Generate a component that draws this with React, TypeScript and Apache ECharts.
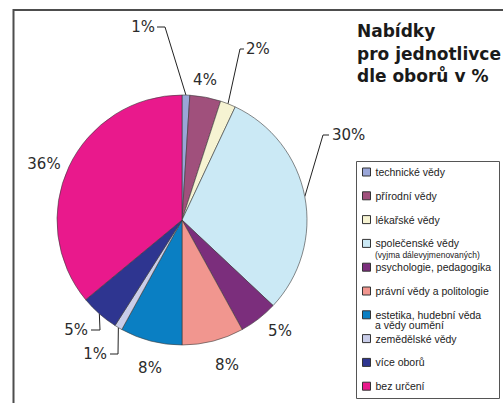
import React, { useEffect, useRef } from "react";
import * as echarts from "echarts";

const categories = [
  "technické vědy",
  "přírodní vědy",
  "lékařské vědy",
  "společenské vědy",
  "psychologie, pedagogika",
  "právní vědy a politologie",
  "estetika, hudební věda",
  "zemědělské vědy",
  "více oborů",
  "bez určení",
];
const values = [1, 4, 2, 30, 5, 8, 8, 1, 5, 36];
const colors = [
  "#9aa6d8",
  "#a0507c",
  "#f6f3d2",
  "#cbe9f5",
  "#7b2e7c",
  "#f1968f",
  "#0a7fc3",
  "#c9cde9",
  "#2e3590",
  "#e9198c",
];
// second lines of two legend entries
const legendSubTexts = [
  { index: 3, text: "(vyjma dálevyjmenovaných)", fontSize: 8.5, dy: 12 },
  { index: 6, text: "a vědy oumění", fontSize: 10.5, dy: 10.5 },
];

// label placement (layout only)
const labelPlacement: any[] = [
  { x: 155, y: 27, align: "right", elbow: [165, 27], end: [157, 27] },
  { x: 205, y: 80, align: "center" },
  { x: 246, y: 49, align: "left", elbow: [240, 49], end: [244, 49] },
  { x: 332, y: 135, align: "left", elbow: [323, 135], end: [329, 135] },
  { x: 280, y: 331, align: "center" },
  { x: 227, y: 365, align: "center" },
  { x: 150, y: 368, align: "center" },
  { x: 107, y: 354, align: "right", elbow: [118, 354], end: [110, 354] },
  { x: 88, y: 330, align: "right", elbow: [100, 330], end: [91, 330] },
  { x: 44, y: 164, align: "center" },
];

const NARROW = "'Liberation Sans Narrow', 'Liberation Sans', sans-serif";
const LEGEND_LEFT = 362;
const LEGEND_TOP = 166;
const ITEM_H = 12;
const ITEM_GAP = 11.8;

export default function App() {
  const ref = useRef<HTMLDivElement>(null);
  useEffect(() => {
    if (!ref.current) return;
    const chart = echarts.init(ref.current, undefined, { renderer: "svg" });
    const data = categories.map((name, i) => ({
      name,
      value: values[i],
      itemStyle: { color: colors[i] },
      labelLine: { show: !!labelPlacement[i].elbow },
    }));
    const subGraphics = legendSubTexts.map((s) => ({
      type: "text",
      silent: true,
      style: {
        text: s.text,
        x: LEGEND_LEFT + 8 + 5,
        y: LEGEND_TOP + ITEM_H / 2 + s.index * (ITEM_H + ITEM_GAP) + s.dy,
        fontFamily: NARROW,
        fontSize: s.fontSize,
        fill: "#222",
        verticalAlign: "middle",
        align: "left",
      },
    }));
    chart.setOption({
      animation: false,
      backgroundColor: "#ffffff",
      title: {
        text: "Nabídky\npro jednotlivce\ndle oborů v %",
        left: 357,
        top: 20,
        padding: 0,
        textStyle: {
          fontFamily: "DejaVu Sans",
          fontWeight: "bold",
          fontSize: 17,
          lineHeight: 22.5,
          color: "#1a1a1a",
        },
      },
      legend: {
        orient: "vertical",
        left: LEGEND_LEFT,
        top: LEGEND_TOP,
        padding: 0,
        itemGap: ITEM_GAP,
        itemWidth: 8,
        itemHeight: 8,
        icon: "rect",
        itemStyle: { borderColor: "#333", borderWidth: 1 },
        data: categories,
        textStyle: {
          fontFamily: NARROW,
          fontSize: 10.5,
          lineHeight: ITEM_H,
          color: "#222",
        },
      },
      graphic: [
        {
          type: "polyline",
          shape: { points: [[13.5, 403], [13.5, 10], [503, 10]] },
          style: { stroke: "#4d4d4d", lineWidth: 2, fill: "none" },
          silent: true,
        },
        {
          type: "rect",
          shape: { x: 356.5, y: 161.5, width: 143, height: 237 },
          style: { stroke: "#555", lineWidth: 1, fill: "none" },
          silent: true,
          z: -1,
        },
        ...subGraphics,
      ],
      series: [
        {
          type: "pie",
          center: [182, 220],
          radius: 125,
          startAngle: 90,
          clockwise: true,
          avoidLabelOverlap: false,
          data,
          itemStyle: { borderColor: "#3a3a3a", borderWidth: 0.6 },
          label: {
            show: true,
            position: "outside",
            formatter: "{c}%",
            fontFamily: "DejaVu Sans",
            fontSize: 15,
            color: "#2b2b2b",
          },
          labelLine: {
            show: true,
            length: 10,
            length2: 10,
            smooth: false,
            lineStyle: { color: "#222", width: 1 },
          },
          labelLayout: (params: any) => {
            const p = labelPlacement[params.dataIndex];
            const res: any = { x: p.x, y: p.y, align: p.align, verticalAlign: "middle" };
            if (p.elbow && params.labelLinePoints) {
              res.labelLinePoints = [params.labelLinePoints[0], p.elbow, p.end];
            }
            return res;
          },
          emphasis: { disabled: true },
        },
      ],
    });
    return () => chart.dispose();
  }, []);
  return <div ref={ref} style={{ width: 503, height: 403, position: "absolute", left: 0, top: 0 }} />;
}
